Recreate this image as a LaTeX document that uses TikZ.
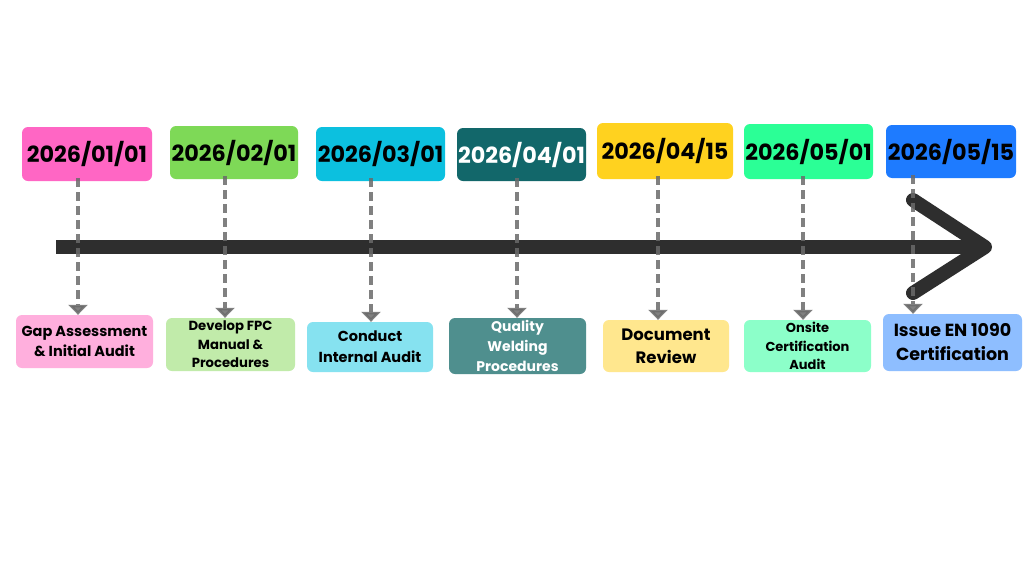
\documentclass[tikz,border=0pt]{standalone}
\usepackage{fontspec}
\setmainfont{Poppins}
\usetikzlibrary{arrows.meta}
\definecolor{c1}{HTML}{FF66C4}\definecolor{l1}{HTML}{FFAFDD}
\definecolor{c2}{HTML}{7ED957}\definecolor{l2}{HTML}{C1EBAA}
\definecolor{c3}{HTML}{0CC0DF}\definecolor{l3}{HTML}{86E2F0}
\definecolor{c4}{HTML}{12676A}\definecolor{l4}{HTML}{4F8F8E}
\definecolor{c5}{HTML}{FFD21F}\definecolor{l5}{HTML}{FFE78E}
\definecolor{c6}{HTML}{2BFF96}\definecolor{l6}{HTML}{8CFFC9}
\definecolor{c7}{HTML}{1E7BFF}\definecolor{l7}{HTML}{8EBEFF}
\definecolor{axis}{HTML}{2E2E2E}
\definecolor{dash}{HTML}{6A6A6A}
\tikzset{
  datebox/.style={rounded corners=6pt, inner sep=0pt, font=\bfseries\fontsize{22.3}{26}\selectfont, text=black},
  taskbox/.style={rounded corners=6pt, inner sep=0pt, align=center, text=black},
  link/.style={draw=dash, opacity=0.85, line width=3.8pt, dash pattern=on 9pt off 5pt, -{Triangle[width=19pt,length=10pt]}},
}
\begin{document}
\begin{tikzpicture}[x=1pt,y=-1pt]
\useasboundingbox (0,0) rectangle (1024,576);
\fill[white] (0,0) rectangle (1024,576);
% date boxes
\node[datebox, fill=c1, minimum width=130pt, minimum height=54pt] (d1) at (87,154) {2026/01/01};
\node[datebox, fill=c2, minimum width=128pt, minimum height=53pt] (d2) at (234,152.5) {2026/02/01};
\node[datebox, fill=c3, minimum width=129pt, minimum height=54pt] (d3) at (380.5,154) {2026/03/01};
\node[datebox, fill=c4, minimum width=129pt, minimum height=53pt, text=white] (d4) at (521.5,154.5) {2026/04/01};
\node[datebox, fill=c5, minimum width=136pt, minimum height=56pt] (d5) at (665,151) {2026/04/15};
\node[datebox, fill=c6, minimum width=129pt, minimum height=55pt] (d6) at (808.5,151.5) {2026/05/01};
\node[datebox, fill=c7, minimum width=130pt, minimum height=53pt] (d7) at (951,151.5) {2026/05/15};
% task boxes
\node[taskbox, fill=l1, minimum width=137pt, minimum height=53pt, font=\bfseries\fontsize{14.5}{20}\selectfont] (t1) at (84.5,341.5) {Gap Assessment\\\& Initial Audit};
\node[taskbox, fill=l2, minimum width=129pt, minimum height=53pt, font=\bfseries\fontsize{13.2}{18.5}\selectfont] (t2) at (230.5,344.5) {Develop FPC\\Manual \&\\Procedures};
\node[taskbox, fill=l3, minimum width=126pt, minimum height=50pt, font=\bfseries\fontsize{14.5}{21}\selectfont] (t3) at (370,347) {Conduct\\Internal Audit};
\node[taskbox, fill=l4, minimum width=137pt, minimum height=56pt, text=white, font=\bfseries\fontsize{14}{20}\selectfont] (t4) at (517.5,346) {Quality\\Welding\\Procedures};
\node[taskbox, fill=l5, minimum width=126pt, minimum height=52pt, font=\bfseries\fontsize{16.5}{23}\selectfont] (t5) at (666,346) {Document\\Review};
\node[taskbox, fill=l6, minimum width=127pt, minimum height=52pt, font=\bfseries\fontsize{13}{18.5}\selectfont] (t6) at (807.5,346) {Onsite\\Certification\\Audit};
\node[taskbox, fill=l7, minimum width=139pt, minimum height=57pt, font=\bfseries\fontsize{17.5}{24}\selectfont] (t7) at (952.5,342.5) {Issue EN 1090\\Certification};
% main axis
\coordinate (a0) at (56,247);
\coordinate (a1) at (980,247);
\coordinate (ctop) at (913,200);
\coordinate (ctip) at (985,247);
\coordinate (cbot) at (913,293);
\draw[axis, line width=14pt, line cap=butt] (a0) -- (a1);
\draw[axis, line width=14pt, line cap=round, line join=round] (ctop) -- (ctip) -- (cbot);
% connectors
\draw[link] ([yshift=3pt]d1.south -| 78,0) -- (t1.north -| 78,0);
\draw[link] ([yshift=3pt]d2.south -| 225,0) -- (t2.north -| 225,0);
\draw[link] ([yshift=3pt]d3.south -| 371,0) -- (t3.north -| 371,0);
\draw[link] ([yshift=3pt]d4.south -| 517,0) -- (t4.north -| 517,0);
\draw[link] ([yshift=3pt]d5.south -| 658,0) -- (t5.north -| 658,0);
\draw[link] ([yshift=3pt]d6.south -| 803,0) -- (t6.north -| 803,0);
\draw[link] ([yshift=3pt]d7.south -| 913,0) -- (t7.north -| 913,0);
\end{tikzpicture}
\end{document}
